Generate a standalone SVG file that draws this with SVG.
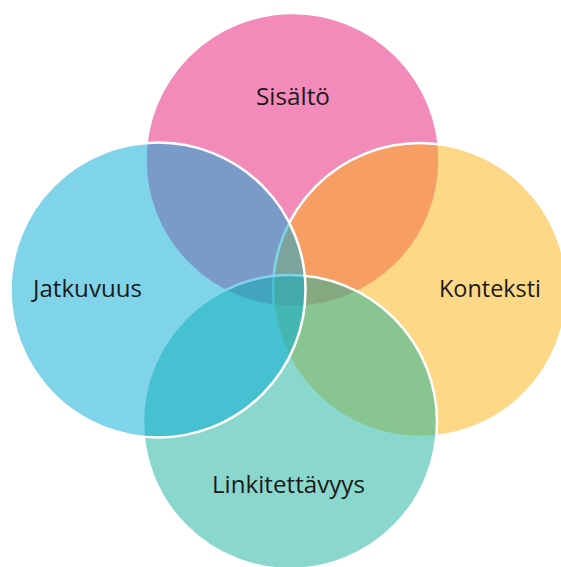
<svg xmlns="http://www.w3.org/2000/svg" width="561" height="567" viewBox="0 0 561 567">
<style>
.c{stroke:#ffffff;stroke-width:2.5;fill-opacity:0.5}
.t{font-family:"Open Sans","Noto Sans","Liberation Sans",sans-serif;font-size:24px;fill:#1a1a1a;text-anchor:middle}
</style>
<rect width="561" height="567" fill="#ffffff"/>
<g id="sisalto">
<circle class="c" cx="292.5" cy="160" r="147" fill="#E51775"/>
</g>
<g id="konteksti">
<circle class="c" cx="420" cy="290" r="147" fill="#FBB10D"/>
</g>
<g id="linkitettavyys">
<circle class="c" cx="290" cy="422" r="147" fill="#15B19B"/>
</g>
<g id="jatkuvuus">
<circle class="c" cx="158" cy="290" r="147.5" fill="#01A9D5"/>
</g>
<g id="connectors"></g>
<g id="labels">
<text class="t" x="293" y="105" textLength="74" lengthAdjust="spacingAndGlyphs">Sisältö</text>
<text class="t" x="87.5" y="297" textLength="109" lengthAdjust="spacingAndGlyphs">Jatkuvuus</text>
<text class="t" x="490" y="297" textLength="102" lengthAdjust="spacingAndGlyphs">Konteksti</text>
<text class="t" x="288.5" y="493" textLength="153" lengthAdjust="spacingAndGlyphs">Linkitettävyys</text>
</g>
</svg>
